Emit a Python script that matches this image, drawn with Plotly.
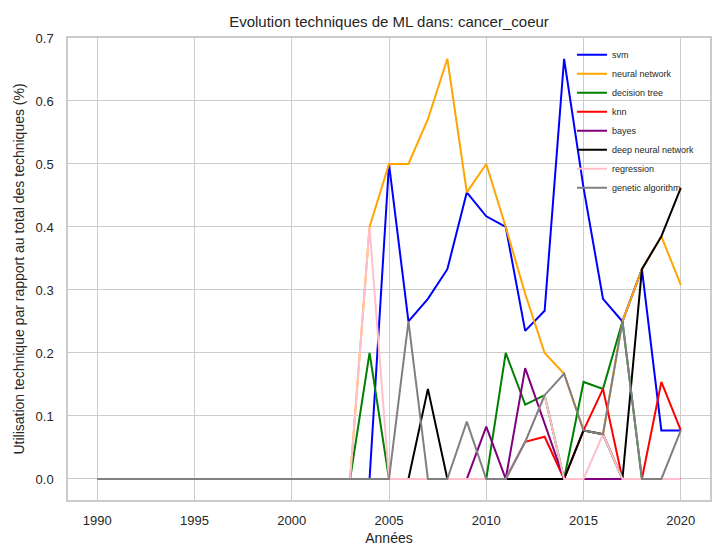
import plotly.graph_objects as go

years = list(range(1990, 2021))
lead_zeros = [0.0] * 13  # 1990-2002

svm = lead_zeros + [0, 0, 0.5, 0.25, 0.286, 0.333, 0.455, 0.417, 0.4, 0.235, 0.267, 0.667, 0.462, 0.286, 0.25, 0.333, 0.077, 0.077]
neural_network = lead_zeros + [0, 0.4, 0.5, 0.5, 0.571, 0.667, 0.455, 0.5, 0.4, 0.294, 0.2, 0.167, 0.077, 0.071, 0.25, 0.333, 0.385, 0.308]
decision_tree = lead_zeros + [0, 0.2, 0, 0, 0, 0, 0, 0, 0.2, 0.118, 0.133, 0, 0.154, 0.143, 0.25, 0, 0, 0]
knn = lead_zeros + [0, 0, 0, 0, 0, 0, 0, 0, 0, 0.059, 0.067, 0, 0.077, 0.143, 0, 0, 0.154, 0.077]
bayes = lead_zeros + [0, 0, 0, 0, 0, 0, 0, 0.083, 0, 0.176, 0.088, 0, 0, 0, 0, 0, 0, 0]
deep_neural_network = lead_zeros + [0, 0, 0, 0, 0.143, 0, 0, 0, 0, 0, 0, 0, 0.077, 0.071, 0, 0.333, 0.385, 0.462]
regression = lead_zeros + [0, 0.4, 0, 0, 0, 0, 0, 0, 0, 0.059, 0.133, 0, 0, 0.071, 0, 0, 0, 0]
genetic_algorithm = lead_zeros + [0, 0, 0, 0.25, 0, 0, 0.091, 0, 0, 0.059, 0.133, 0.167, 0.077, 0.071, 0.25, 0, 0, 0.077]

series_names = ["svm", "neural network", "decision tree", "knn", "bayes",
                "deep neural network", "regression", "genetic algorithm"]
series_values = [svm, neural_network, decision_tree, knn, bayes,
                 deep_neural_network, regression, genetic_algorithm]
series_colors = ["blue", "orange", "green", "red", "purple", "black", "pink", "gray"]

x_ticks = [1990, 1995, 2000, 2005, 2010, 2015, 2020]
y_ticks = [0.0, 0.1, 0.2, 0.3, 0.4, 0.5, 0.6, 0.7]

TEXT = "#262626"
GRID = "#cccccc"

fig = go.Figure()
for name, vals, col in zip(series_names, series_values, series_colors):
    fig.add_trace(go.Scatter(x=years, y=vals, mode="lines", name=name,
                             line=dict(color=col, width=2)))

fig.update_layout(
    width=716, height=546, autosize=False,
    paper_bgcolor="white", plot_bgcolor="white",
    margin=dict(l=68, r=6, t=38, b=46),
    font=dict(family="Liberation Sans, Arial, sans-serif", color=TEXT, size=13),
    title=dict(text="Evolution techniques de ML dans: cancer_coeur",
               x=(68 + 321) / 716, xanchor="center", y=1 - 22 / 546, yanchor="middle",
               font=dict(size=15, color=TEXT)),
    legend=dict(x=0.785, xanchor="left", y=0.995, yanchor="top",
                bgcolor="rgba(255,255,255,0)", borderwidth=0,
                font=dict(size=9, color=TEXT), itemwidth=30,
                tracegroupgap=0),
    showlegend=True,
)
fig.update_xaxes(range=[1988.5, 2021.5], tickvals=x_ticks,
                 showgrid=True, gridcolor=GRID, gridwidth=1,
                 showline=True, linecolor=GRID, linewidth=1.5, mirror=True,
                 zeroline=False, ticks="", ticklabelstandoff=8, automargin=False,
                 title=dict(text="Années", font=dict(size=14, color=TEXT), standoff=6))
fig.update_yaxes(range=[-0.0334, 0.7], tickvals=y_ticks, tickformat=".1f",
                 showgrid=True, gridcolor=GRID, gridwidth=1,
                 showline=True, linecolor=GRID, linewidth=1.5, mirror=True,
                 zeroline=False, ticks="", ticklabelstandoff=10, automargin=False,
                 title=dict(text="Utilisation technique par rapport au total des techniques (%)",
                            font=dict(size=14, color=TEXT), standoff=8))

fig.write_html("out.html", config={"displayModeBar": False},
               post_script="document.body.style.margin='0';document.body.style.overflow='hidden';")
